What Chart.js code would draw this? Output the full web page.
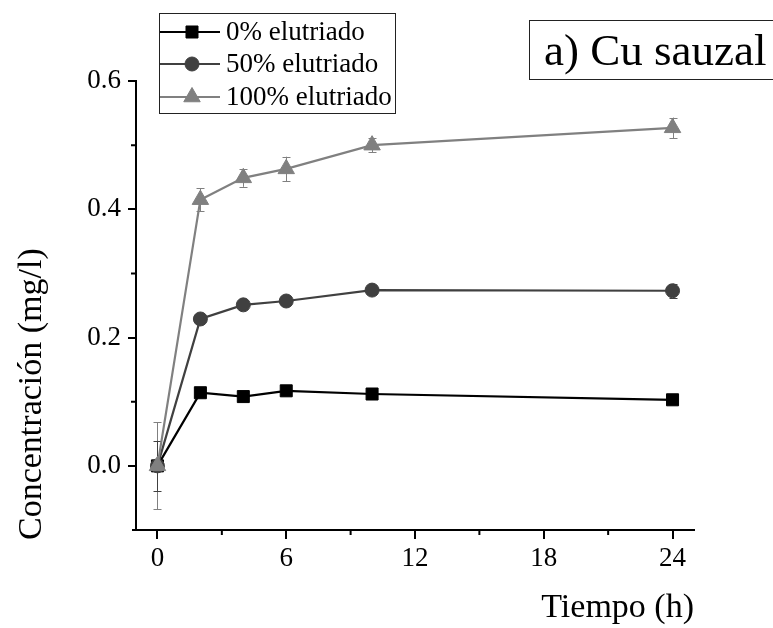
<!DOCTYPE html>
<html>
<head>
<meta charset="utf-8">
<script src="https://cdn.jsdelivr.net/npm/chart.js@4/dist/chart.umd.min.js"></script>
<style>
  html, body { margin: 0; padding: 0; background: #fff; }
  canvas { display: block; }
</style>
</head>
<body>
<canvas id="c" width="773" height="628"></canvas>
<script>
// Sampling times (h)
const times = [0, 2, 4, 6, 10, 24];

// Cu concentration (mg/l) for each elutriate proportion, with standard deviations
const cu0 = [0, 0.114, 0.108, 0.117, 0.112, 0.103];
const cu0Err = [0.003, 0.003, 0.003, 0.003, 0.003, 0.004];
const cu50 = [0, 0.229, 0.251, 0.257, 0.274, 0.273];
const cu50Err = [0.039, 0.004, 0.004, 0.004, 0.004, 0.011];
const cu100 = [0, 0.415, 0.449, 0.463, 0.500, 0.527];
const cu100Err = [0.068, 0.018, 0.014, 0.019, 0.011, 0.016];

const seriesLabels = ['0% elutriado', '50% elutriado', '100% elutriado'];
const xTicks = [0, 6, 12, 18, 24];
const xMinorTicks = [3, 9, 15, 21];
const yTicks = [0, 0.2, 0.4, 0.6];
const yMinorTicks = [0.1, 0.3, 0.5];

const panelTitle = 'a) Cu sauzal';
const xTitle = 'Tiempo (h)';
const yTitle = 'Concentración (mg/l)';

const SERIF = "'Liberation Serif', 'Times New Roman', serif";
Chart.defaults.font.family = SERIF;
Chart.defaults.color = '#000';

const toPoints = (vals) => vals.map((v, i) => ({ x: times[i], y: v }));

const styles = [
  { color: '#000000', pointStyle: 'rect', radius: 8.5 },
  { color: '#404040', pointStyle: 'circle', radius: 7 },
  { color: '#808080', pointStyle: 'triangle', radius: 9.5 }
];
const errors = [cu0Err, cu50Err, cu100Err];
const values = [cu0, cu50, cu100];

const datasets = values.map((vals, i) => ({
  label: seriesLabels[i],
  data: toPoints(vals),
  borderColor: styles[i].color,
  backgroundColor: styles[i].color,
  borderWidth: 2.2,
  pointStyle: styles[i].pointStyle,
  pointRadius: styles[i].radius,
  pointBorderWidth: 1,
  pointBackgroundColor: styles[i].color,
  pointBorderColor: styles[i].color,
  tension: 0,
  order: 2 - i
}));

// White page background
const background = {
  id: 'background',
  beforeDraw(chart) {
    const ctx = chart.ctx;
    ctx.save();
    ctx.fillStyle = '#fff';
    ctx.fillRect(0, 0, chart.width, chart.height);
    ctx.restore();
  }
};

// Vertical error bars with caps, drawn below the markers
const errorBars = {
  id: 'errorBars',
  beforeDatasetsDraw(chart) {
    const ctx = chart.ctx;
    const xs = chart.scales.x, ys = chart.scales.y;
    ctx.save();
    ctx.lineWidth = 1;
    for (let d = values.length - 1; d >= 0; d--) {
      ctx.strokeStyle = styles[d].color;
      values[d].forEach((v, i) => {
        const e = errors[d][i];
        const px = Math.round(xs.getPixelForValue(times[i])) + 0.5;
        const top = ys.getPixelForValue(v + e);
        const bot = ys.getPixelForValue(v - e);
        ctx.beginPath();
        ctx.moveTo(px, top); ctx.lineTo(px, bot);
        ctx.moveTo(px - 4, Math.round(top) + 0.5); ctx.lineTo(px + 4, Math.round(top) + 0.5);
        ctx.moveTo(px - 4, Math.round(bot) + 0.5); ctx.lineTo(px + 4, Math.round(bot) + 0.5);
        ctx.stroke();
      });
    }
    ctx.restore();
  }
};

function marker(ctx, style, x, y) {
  const opts = {
    pointStyle: style.pointStyle, radius: style.radius, rotation: 0, borderWidth: 1
  };
  ctx.fillStyle = style.color;
  ctx.strokeStyle = style.color;
  ctx.lineWidth = 1;
  Chart.helpers.drawPoint(ctx, opts, x, y);
}

// Minor ticks, axis extension, titles, legend and panel label
const decorations = {
  id: 'decorations',
  afterDraw(chart) {
    const ctx = chart.ctx;
    const xs = chart.scales.x, ys = chart.scales.y;
    const area = chart.chartArea;
    ctx.save();

    // minor ticks
    ctx.strokeStyle = '#000';
    ctx.lineWidth = 2;
    ctx.beginPath();
    xMinorTicks.forEach(v => {
      const px = xs.getPixelForValue(v);
      ctx.moveTo(px, area.bottom); ctx.lineTo(px, area.bottom + 5);
    });
    yMinorTicks.forEach(v => {
      const py = ys.getPixelForValue(v);
      ctx.moveTo(area.left, py); ctx.lineTo(area.left - 5, py);
    });
    // small overhang of the x axis to the left of the y axis
    ctx.moveTo(area.left - 4, area.bottom); ctx.lineTo(area.left, area.bottom);
    ctx.stroke();

    // axis titles
    ctx.fillStyle = '#000';
    ctx.font = '34px ' + SERIF;
    ctx.textAlign = 'right';
    ctx.textBaseline = 'alphabetic';
    ctx.fillText(xTitle, area.right, 617);

    ctx.save();
    ctx.translate(41, area.bottom + 10);
    ctx.rotate(-Math.PI / 2);
    ctx.textAlign = 'left';
    ctx.fillText(yTitle, 0, 0);
    ctx.restore();

    // legend
    const lx = 159, ly = 13, lw = 236, lh = 100;
    ctx.fillStyle = '#fff';
    ctx.fillRect(lx, ly, lw, lh);
    ctx.strokeStyle = '#222';
    ctx.lineWidth = 1;
    ctx.strokeRect(lx + 0.5, ly + 0.5, lw, lh);
    const rows = [32, 64, 97];
    ctx.font = '27px ' + SERIF;
    ctx.textAlign = 'left';
    ctx.textBaseline = 'middle';
    seriesLabels.forEach((lab, i) => {
      const y = rows[i];
      ctx.strokeStyle = styles[i].color;
      ctx.lineWidth = 2.2;
      ctx.beginPath();
      ctx.moveTo(lx + 1, y); ctx.lineTo(lx + 61, y);
      ctx.stroke();
      marker(ctx, styles[i], lx + 33, y);
      ctx.fillStyle = '#000';
      ctx.fillText(lab, lx + 67, y + 1);
    });

    // panel label
    ctx.strokeStyle = '#222';
    ctx.lineWidth = 1;
    ctx.fillStyle = '#fff';
    ctx.fillRect(529, 20, 260, 59);
    ctx.strokeRect(529.5, 20.5, 260, 59);
    ctx.fillStyle = '#000';
    ctx.font = '45px ' + SERIF;
    ctx.textBaseline = 'alphabetic';
    ctx.fillText(panelTitle, 544, 65);

    ctx.restore();
  }
};

new Chart(document.getElementById('c'), {
  type: 'line',
  data: { datasets },
  options: {
    responsive: false,
    animation: false,
    devicePixelRatio: 1,
    layout: { padding: { left: 0, top: 81, right: 79, bottom: 0 } },
    plugins: { legend: { display: false }, tooltip: { enabled: false } },
    scales: {
      x: {
        type: 'linear',
        min: -1,
        max: 25,
        afterBuildTicks: (s) => { s.ticks = xTicks.map(v => ({ value: v })); },
        afterFit: (s) => { s.height = 98; },
        ticks: {
          font: { size: 27 },
          padding: 4,
          color: '#000',
          callback: (v) => String(v)
        },
        grid: {
          display: true, drawOnChartArea: false, drawTicks: true,
          tickLength: 9, lineWidth: 2, color: '#000'
        },
        border: { display: true, width: 2, color: '#000' }
      },
      y: {
        type: 'linear',
        min: -0.1,
        max: 0.6,
        afterBuildTicks: (s) => { s.ticks = yTicks.map(v => ({ value: v })); },
        afterFit: (s) => { s.width = 136; },
        ticks: {
          font: { size: 27 },
          padding: 7,
          color: '#000',
          callback: (v) => Number(v).toFixed(1)
        },
        grid: {
          display: true, drawOnChartArea: false, drawTicks: true,
          tickLength: 8, lineWidth: 2, color: '#000'
        },
        border: { display: true, width: 2, color: '#000' }
      }
    }
  },
  plugins: [background, errorBars, decorations]
});
</script>
</body>
</html>
